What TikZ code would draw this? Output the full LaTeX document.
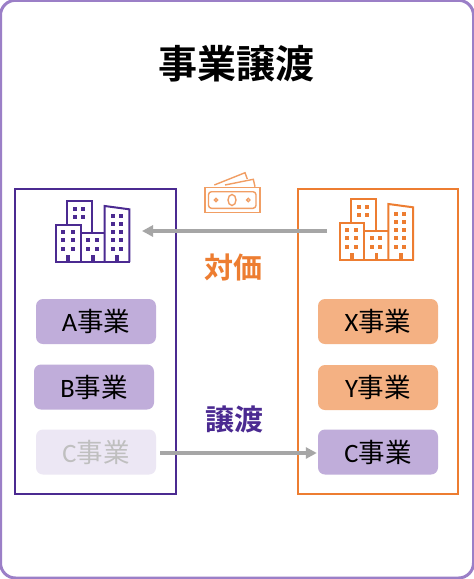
\documentclass[tikz,border=0pt]{standalone}
\usepackage{fontspec}
\setmainfont{Carlito}
\newfontfamily\cjk{Noto Sans CJK JP}
\newfontfamily\cjkb{Noto Sans CJK JP Bold}
\usetikzlibrary{arrows.meta}
\definecolor{frameP}{HTML}{9B7FC7}
\definecolor{deepP}{HTML}{4B2A91}
\definecolor{deepO}{HTML}{ED7D31}
\definecolor{softP}{HTML}{C0ADDA}
\definecolor{paleP}{HTML}{ECE7F4}
\definecolor{softO}{HTML}{F4B183}
\definecolor{arrowG}{HTML}{A6A6A6}
\definecolor{paleT}{HTML}{BFBFBF}
\newcommand{\biztext}[1]{\raisebox{-1.5pt}{#1{\cjk 事業}}}
\tikzset{
  x=1pt,y=-1pt,
  panel/.style={draw,line width=1.5pt,fill=none},
  biz/.style={rounded corners=7pt,minimum width=120pt,minimum height=45pt,inner sep=0pt,font=\fontsize{26.5}{26.5}\selectfont,text=black},
  head/.style={inner sep=0pt,font=\cjkb\fontsize{29}{29}\selectfont},
  flow/.style={draw=arrowG,line width=3.2pt,-{Triangle[length=11pt,width=11pt]},shorten >=0pt},
  pics/tower/.style={code={
    \draw[#1,line width=2pt,line join=miter] (11,25) -- (11,1) -- (36,1) -- (36,32);
    \draw[#1,line width=2pt,line join=miter] (0,62) -- (0,24.5) -- (24.7,24.5) -- (24.7,62);
    \draw[#1,line width=2pt,line join=miter] (24.7,32.5) -- (48.7,32.5);
    \draw[#1,line width=2pt,line join=miter] (48.7,62) -- (48.7,6) -- (73.3,9.3) -- (73.3,62);
    \draw[#1,line width=2pt,line cap=rect] (0,62) -- (73.3,62);
    \foreach \wx/\wy in {19.3/9,27.3/9,19.3/17,27.3/17,
      7.3/32.3,16.7/32.3,7.3/40.3,16.7/40.3,7.3/48.7,16.7/48.7,
      32.3/40.3,40.7/40.3,32.3/48.7,40.7/48.7,
      56.7/16,64.7/16,56.7/24,64.7/24,56.7/32.3,64.7/32.3,56.7/40.3,64.7/40.3,56.7/48.7,64.7/48.7}
      \fill[#1] (\wx-2,\wy-2) rectangle ++(4,4);
    \foreach \wx in {12.3,36.7,61}
      \fill[#1] (\wx-1.9,55) rectangle ++(3.8,7);
  }},
}
\begin{document}
\begin{tikzpicture}
\useasboundingbox (0,0) rectangle (474,579);
\fill[white] (0,0) rectangle (474,579);
\begin{scope}
\clip (0,0) rectangle (474,579);
\draw[frameP,line width=3pt,rounded corners=15pt] (0.5,0.3) rectangle (473.5,578);
\end{scope}
\node[inner sep=0pt,font=\cjkb\fontsize{39}{39}\selectfont] (title) at (236.7,64) {事業譲渡};

\node[panel,draw=deepP,minimum width=161pt,minimum height=305pt,inner sep=0pt] (left) at (95.5,341.5) {};
\node[panel,draw=deepO,minimum width=160pt,minimum height=305pt,inner sep=0pt] (right) at (378,341.5) {};

\pic at (56,200) {tower=deepP};
\begin{scope}[shift={(339.7,198)},xscale=1.05,yscale=1.04]
\pic {tower=deepO};
\end{scope}

% banknote
\begin{scope}[deepO!75!white,line width=1.4pt]
\draw (205,187.5) rectangle (260,212.3);
\draw[rounded corners=3pt] (208.5,191.7) rectangle (256,208.3);
\draw (232,200) ellipse [x radius=4,y radius=5.5];
\draw (216,200) circle (1.7);
\draw (248.3,200) circle (1.7);
\draw (214.3,185) -- (245,172.7) -- (247.3,179);
\draw (225,185) -- (253.3,179.3) -- (255,186.7);
\end{scope}

\node[biz,fill=softP] (a) at (96,321.5) {\biztext{A}};
\node[biz,fill=softP] (b) at (94,387) {\biztext{B}};
\node[biz,fill=paleP,text=paleT] (c) at (96,452) {\biztext{C}};
\node[biz,fill=softO] (x) at (378,321.5) {\biztext{X}};
\node[biz,fill=softO] (y) at (378,387.5) {\biztext{Y}};
\node[biz,fill=softP] (c2) at (378,452) {\biztext{C}};

\coordinate (payfrom) at (327,231);
\coordinate (payto) at (142,231);
\draw[flow] (payfrom) -- (payto);
\draw[flow] ([xshift=4pt,yshift=-1pt]c.east) -- ([xshift=-1pt,yshift=-1pt]c2.west);

\node[head,text=deepO] (pay) at (233,267) {対価};
\node[head,text=deepP] (tr) at (234.7,419) {譲渡};
\end{tikzpicture}
\end{document}
